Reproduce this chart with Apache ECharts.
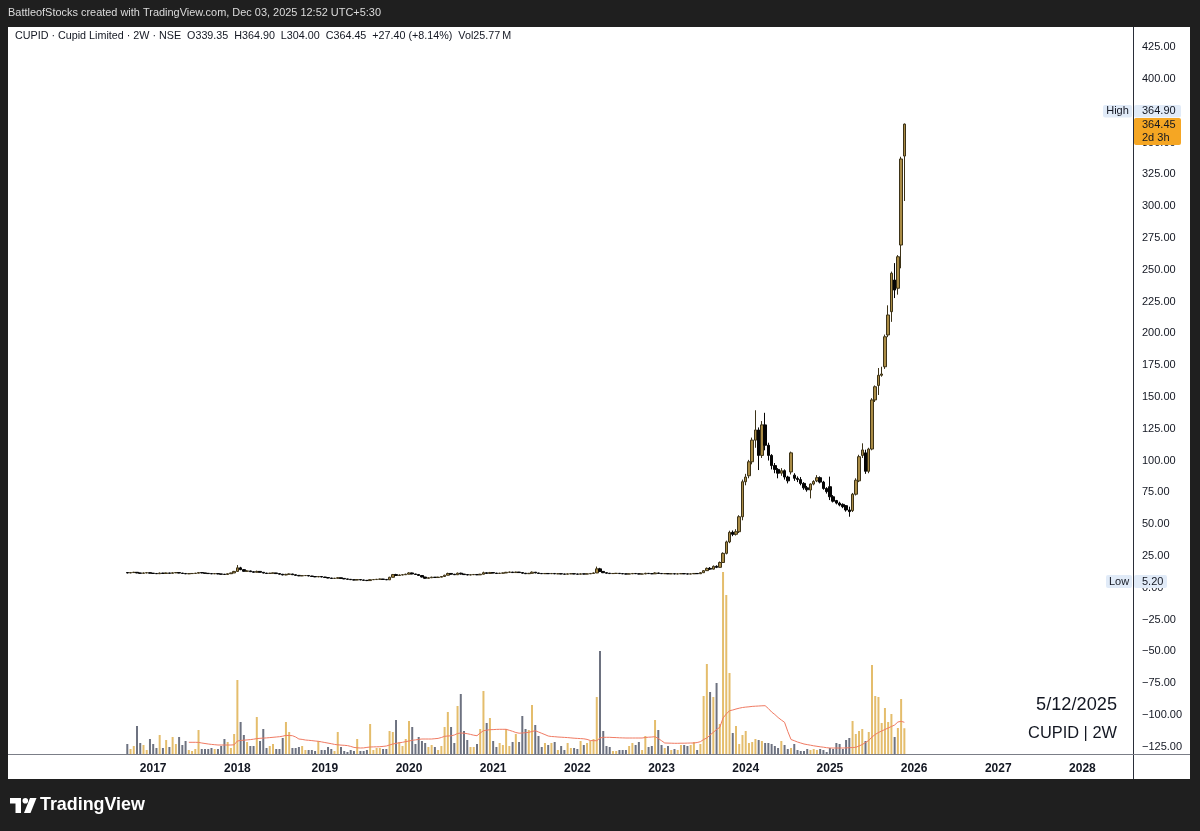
<!DOCTYPE html>
<html>
<head>
<meta charset="utf-8">
<script src="https://cdn.jsdelivr.net/npm/echarts@6/dist/echarts.min.js"></script>
<style>
html,body{margin:0;padding:0;background:#1f1f1f;}
#chart{width:1200px;height:831px;}
</style>
</head>
<body>
<div id="chart"></div>
<script>
// ---------------- DATA ----------------
// 2-week slots on the time axis start 2015-04-13; the first bar of data is 2016-09-12 (slot 37)
const axisStart = [2015, 3, 13];
const slotCount = 348;
const firstBarSlot = 37;
const yearLabels = ['2017','2018','2019','2020','2021','2022','2023','2024','2025','2026','2027','2028'];

const opens = [
11.9,11.6,11.9,12.1,11.6,11.3,11.6,11.8,11.4,11.2,
11.0,11.5,11.2,11.6,11.3,11.7,11.9,11.5,11.2,10.9,
11.1,11.2,11.4,11.9,11.6,11.3,11.1,10.9,11.1,10.8,
10.6,10.4,11.0,11.6,12.8,15.6,14.2,12.9,13.2,12.6,
12.1,12.8,12.1,11.5,11.2,11.4,11.6,11.1,10.6,10.0,
10.5,10.8,10.2,9.7,9.3,9.5,9.6,9.2,8.8,8.5,
8.8,8.4,8.0,7.6,7.3,7.4,7.8,7.3,6.9,6.6,
6.3,6.0,6.4,6.1,5.8,5.6,6.3,6.4,6.6,6.8,
6.5,6.2,8.2,10.3,9.6,10.0,10.2,10.6,11.6,10.8,
10.4,9.6,8.4,7.4,7.8,8.3,8.0,8.3,8.8,9.8,
11.2,10.6,10.2,11.4,10.7,10.3,10.0,10.2,10.4,10.1,
10.6,11.8,11.2,11.9,11.5,11.2,11.4,11.6,12.1,12.3,
11.9,12.3,11.9,11.4,11.0,11.3,12.2,11.6,11.2,11.0,
11.2,11.0,11.2,10.9,11.0,10.8,10.6,10.9,11.0,10.8,
10.6,10.9,10.7,10.9,11.2,11.6,14.8,12.8,11.8,11.4,
11.1,11.2,11.3,11.1,10.9,10.7,10.9,11.2,11.0,10.7,
10.8,11.3,11.1,10.9,11.6,11.2,11.0,11.1,10.9,11.0,
10.8,10.9,11.1,10.9,10.7,10.9,11.2,11.0,11.8,13.4,
15.2,14.6,16.8,16.0,19.8,27.0,36.0,43.5,42.0,44.0,
55.8,83.3,88.0,99.0,116.0,124.0,104.0,128.0,112.0,104.0,
96.0,93.0,90.0,92.0,87.0,91.0,88.5,86.0,85.0,82.0,
78.5,76.8,81.5,84.0,86.5,83.0,78.0,79.4,71.5,68.5,
66.5,65.5,64.5,61.1,60.6,73.5,84.0,104.0,106.0,91.5,
109.0,147.6,159.0,167.0,173.7,198.7,217.0,241.9,235.4,269.4,
339.35
];
const closes = [
11.6,11.9,12.1,11.6,11.3,11.6,11.8,11.4,11.2,11.0,
11.5,11.2,11.6,11.3,11.7,11.9,11.5,11.2,10.9,11.1,
11.2,11.4,11.9,11.6,11.3,11.1,10.9,11.1,10.8,10.6,
10.4,11.0,11.6,12.8,15.6,14.2,12.9,13.2,12.6,12.1,
12.8,12.1,11.5,11.2,11.4,11.6,11.1,10.6,10.0,10.5,
10.8,10.2,9.7,9.3,9.5,9.6,9.2,8.8,8.5,8.8,
8.4,8.0,7.6,7.3,7.4,7.8,7.3,6.9,6.6,6.3,
6.0,6.4,6.1,5.8,5.6,6.3,6.4,6.6,6.8,6.5,
6.2,8.2,10.3,9.6,10.0,10.2,10.6,11.6,10.8,10.4,
9.6,8.4,7.4,7.8,8.3,8.0,8.3,8.8,9.8,11.2,
10.6,10.2,11.4,10.7,10.3,10.0,10.2,10.4,10.1,10.6,
11.8,11.2,11.9,11.5,11.2,11.4,11.6,12.1,12.3,11.9,
12.3,11.9,11.4,11.0,11.3,12.2,11.6,11.2,11.0,11.2,
11.0,11.2,10.9,11.0,10.8,10.6,10.9,11.0,10.8,10.6,
10.9,10.7,10.9,11.2,11.6,14.8,12.8,11.8,11.4,11.1,
11.2,11.3,11.1,10.9,10.7,10.9,11.2,11.0,10.7,10.8,
11.3,11.1,10.9,11.6,11.2,11.0,11.1,10.9,11.0,10.8,
10.9,11.1,10.9,10.7,10.9,11.2,11.0,11.8,13.4,15.2,
14.6,16.8,16.0,19.8,27.0,36.0,43.5,42.0,44.0,55.8,
83.3,87.0,99.0,116.0,124.0,104.0,128.0,112.0,104.0,96.0,
93.0,90.0,92.0,87.0,84.0,106.0,86.0,85.0,82.0,78.5,
77.0,81.5,83.5,86.5,83.0,78.0,75.5,71.5,68.0,66.5,
65.0,63.7,61.1,59.8,73.5,84.5,103.0,108.3,91.5,109.0,
147.6,158.0,167.0,168.0,197.3,214.4,247.2,234.0,260.2,337.05,
364.45
];
const lows = [
11.3,11.4,11.7,11.4,11.0,11.1,11.4,11.2,11.0,10.8,
10.9,11.0,11.1,11.1,11.2,11.5,11.3,11.0,10.7,10.7,
10.9,11.0,11.3,11.4,11.1,10.9,10.7,10.8,10.6,10.4,
10.2,10.3,10.9,11.5,12.6,13.8,12.6,12.5,12.4,11.9,
12.0,11.9,11.3,11.0,11.0,11.2,10.9,10.4,9.8,9.8,
10.3,10.0,9.5,9.1,9.1,9.3,9.0,8.6,8.3,8.3,
8.2,7.8,7.4,7.1,7.0,7.2,7.1,6.7,6.4,6.1,
5.8,5.9,5.9,5.6,5.2,5.5,6.1,6.2,6.4,6.3,
6.0,6.1,8.0,9.3,9.4,9.8,10.0,10.5,10.5,10.1,
9.3,8.1,7.0,7.2,7.6,7.8,7.9,8.2,8.7,9.7,
10.3,10.0,10.1,10.4,10.1,9.8,9.8,10.0,9.9,10.0,
10.5,10.9,11.1,11.3,11.0,11.0,11.2,11.5,11.9,11.7,
11.8,11.7,11.1,10.8,10.9,11.2,11.4,11.0,10.8,10.9,
10.8,10.9,10.7,10.7,10.6,10.4,10.5,10.7,10.6,10.4,
10.5,10.5,10.6,10.8,11.1,11.5,12.4,11.5,11.2,10.9,
10.9,11.0,10.9,10.7,10.5,10.6,10.8,10.8,10.5,10.5,
10.7,10.9,10.7,10.8,11.0,10.8,10.8,10.7,10.7,10.6,
10.6,10.8,10.7,10.5,10.6,10.8,10.8,10.9,11.7,13.2,
14.0,14.4,15.4,15.8,19.6,26.2,35.0,40.5,41.0,43.0,
53.0,80.5,86.0,97.0,110.0,92.5,102.0,108.0,100.0,93.0,
90.0,86.0,88.0,85.0,82.0,89.0,84.0,83.0,80.5,77.0,
75.5,70.2,80.5,83.0,82.0,77.0,74.0,68.9,67.0,65.5,
64.0,62.5,59.8,55.8,59.5,72.5,83.0,102.0,89.5,90.0,
108.0,146.0,151.5,165.9,172.0,197.0,209.0,227.7,230.4,251.1,
304.0
];
const highs = [
12.2,12.2,12.5,12.3,11.8,11.9,12.0,12.0,11.6,11.4,
11.9,11.7,11.9,11.7,12.1,12.2,12.0,11.6,11.3,11.3,
11.4,11.6,12.3,12.0,11.7,11.4,11.2,11.3,11.2,10.9,
10.8,11.2,11.8,13.2,17.8,16.4,14.6,13.8,13.4,12.8,
13.4,13.0,12.2,11.6,11.7,11.9,11.7,11.2,10.7,10.9,
11.2,10.9,10.3,9.8,9.8,9.9,9.7,9.3,8.9,9.2,
8.9,8.5,8.1,7.7,7.7,8.3,7.9,7.4,7.0,6.7,
6.4,6.8,6.5,6.2,5.9,6.7,6.7,6.9,7.1,6.9,
6.6,8.6,10.8,10.9,10.4,10.6,11.0,12.2,11.9,10.9,
10.5,9.7,8.5,8.1,8.6,8.4,8.6,9.1,10.2,11.8,
11.4,10.8,11.9,11.8,10.9,10.4,10.5,10.7,10.5,10.9,
12.6,12.0,12.4,12.0,11.6,11.7,11.9,12.4,12.6,12.4,
12.6,12.4,12.1,11.5,11.6,12.8,12.3,11.7,11.3,11.5,
11.3,11.5,11.3,11.3,11.1,10.9,11.2,11.3,11.1,10.9,
11.2,11.0,11.2,11.5,12.0,16.6,15.6,13.0,11.9,11.5,
11.5,11.6,11.4,11.2,11.0,11.2,11.5,11.3,11.1,11.1,
11.7,11.4,11.2,12.1,11.8,11.3,11.4,11.2,11.3,11.1,
11.2,11.4,11.2,11.0,11.2,11.5,11.3,12.2,13.9,15.9,
16.2,17.5,17.6,20.6,27.8,37.0,44.8,45.0,46.0,57.0,
85.0,89.5,100.5,118.0,139.5,126.0,131.0,137.5,114.0,105.0,
98.0,94.0,94.0,93.0,88.0,107.0,90.0,87.5,87.0,83.0,
80.0,82.0,84.5,88.5,87.5,84.0,79.0,87.3,72.8,69.0,
67.6,66.3,65.0,63.7,74.5,86.0,104.5,113.5,108.5,110.0,
149.0,159.0,172.7,173.7,199.0,222.0,248.5,255.2,261.5,338.8,
364.9
];
// volume in millions
const volumes = [
10,5,8,28,11,9,4,15,10,6,
19,6,14,7,17,10,17,9,13,4,
3,5,24,5,5,5,6,5,5,8,
15,12,6,20,74,32,19,12,8,8,
37,13,25,6,8,10,5,5,16,32,
22,6,6,7,8,4,4,4,3,13,
4,4,7,5,3,22,7,3,2,4,
3,15,3,3,4,30,4,6,6,5,
5,23,22,34,12,8,15,33,27,10,
17,13,11,7,9,7,4,8,27,42,
27,11,48,60,23,14,7,7,10,25,
63,31,36,13,7,11,9,25,8,12,
20,12,38,25,24,49,29,18,7,11,
9,11,12,4,8,4,11,6,6,5,
13,9,11,13,15,57,103,23,8,7,
3,3,4,4,4,8,11,9,12,4,
18,7,8,34,24,9,6,8,4,5,
4,9,9,8,9,12,4,10,58,90,
62,57,71,30,182,159,81,21,28,10,
19,23,11,12,15,14,13,11,11,10,
8,6,13,9,5,6,10,4,3,3,
5,4,5,4,5,4,2,6,5,11,
10,5,14,16,33,20,23,25,13,22,
89,58,57,31,46,32,40,17,26,55,
25.77
];
// volume moving average line (millions)
const volumeMA = [
null,null,null,null,null,null,null,null,null,null,
null,null,null,null,null,null,null,null,null,11.7,
11.7,11.7,11.6,11.0,10.5,10.0,9.6,9.3,9.0,9.0,
9.0,9.0,9.0,9.2,13.0,13.5,13.8,14.1,14.4,14.8,
15.4,15.7,15.9,16.1,16.4,16.7,17.0,17.3,17.8,18.6,
18.5,18.3,17.0,15.0,14.6,14.0,13.7,13.4,13.0,12.7,
12.1,11.5,10.9,10.3,9.6,9.2,8.9,8.7,8.4,7.6,
6.6,6.2,6.0,6.1,6.6,7.0,7.1,7.2,7.3,7.6,
8.0,9.0,10.0,10.6,11.2,11.7,12.4,13.0,13.7,14.1,
14.6,15.0,15.0,15.0,15.0,15.3,15.6,16.5,17.7,18.0,
18.2,19.0,20.5,21.0,20.8,20.3,19.6,18.8,18.3,21.0,
23.3,23.8,24.3,24.4,24.6,24.7,24.7,24.7,23.7,22.7,
21.5,20.8,21.0,21.3,21.7,22.5,23.3,22.0,20.7,19.4,
18.0,17.5,17.3,17.0,16.8,16.6,16.4,16.1,15.8,15.6,
15.4,15.2,14.6,13.5,13.3,13.3,16.0,16.7,16.7,16.7,
16.5,16.4,16.2,16.1,16.0,16.0,16.0,16.0,16.0,16.0,
16.5,16.8,17.0,17.3,15.5,13.3,11.0,10.9,10.8,10.7,
10.7,10.8,10.8,10.9,11.0,11.0,11.5,12.3,14.5,16.0,
19.0,21.7,24.5,26.7,36.0,40.0,43.3,44.0,45.0,45.8,
46.5,46.9,47.2,47.6,47.8,48.0,48.2,48.3,45.5,42.0,
39.5,36.5,34.0,31.7,22.5,14.5,13.3,12.0,11.0,10.0,
9.4,8.8,8.2,7.7,7.2,6.8,6.3,6.0,6.0,6.0,
6.0,6.0,6.1,6.3,6.5,6.7,8.0,9.5,11.5,13.5,
17.0,19.5,21.5,23.0,24.5,26.0,27.5,29.0,32.0,32.7,
31.7
];
const headerText = 'BattleofStocks created with TradingView.com, Dec 03, 2025 12:52 UTC+5:30';
const legendText = 'CUPID \u00b7 Cupid Limited \u00b7 2W \u00b7 NSE  O339.35  H364.90  L304.00  C364.45  +27.40 (+8.14%)  Vol25.77\u2009M';
const lastPrice = '364.45', countdown = '2d 3h', highValue = '364.90', lowValue = '5.20';
const dateNote = '5/12/2025', symbolNote = 'CUPID | 2W';

// ---------------- BUILD ----------------
const FONT = '"Liberation Sans", Arial, sans-serif';
const cats = [];
const t0 = Date.UTC(axisStart[0], axisStart[1], axisStart[2]);
for (let k = 0; k < slotCount; k++) {
  cats.push(new Date(t0 + k * 14 * 86400000).toISOString().slice(0, 10));
}
const yearStartIdx = new Set();
for (let k = 0; k < cats.length; k++) {
  const y = cats[k].slice(0, 4);
  if ((k === 0 || cats[k - 1].slice(0, 4) !== y) && yearLabels.indexOf(y) >= 0) yearStartIdx.add(k);
}

const UP_FILL = '#a98b45', UP_LINE = '#3d3318', DOWN = '#050505';
const VOL_UP = '#e4bd6c', VOL_DOWN = '#6d7280', MA_COLOR = '#f07a62';

const candleData = opens.map((o, i) => [firstBarSlot + i, o, closes[i], lows[i], highs[i]]);
const volData = volumes.map((v, i) => ({
  value: [firstBarSlot + i, v],
  itemStyle: { color: closes[i] >= opens[i] ? VOL_UP : VOL_DOWN }
}));
const maData = [];
volumeMA.forEach((v, i) => { if (v != null) maData.push([firstBarSlot + i, v]); });

const mctx = document.createElement('canvas').getContext('2d');
function fit(text, weight, width) {
  mctx.font = weight + ' 100px ' + FONT;
  return 100 * width / mctx.measureText(text).width;
}
function txt(text, x, y, opts) {
  const size = opts.size || fit(text, opts.weight || 'normal', opts.width);
  return {
    type: 'text', x: x, y: y, z: 20, silent: true,
    style: {
      text: text, fill: opts.fill || '#131722',
      font: (opts.weight || 'normal') + ' ' + size.toFixed(2) + 'px ' + FONT,
      align: opts.align || 'left', verticalAlign: 'middle',
      textAlign: opts.align || 'left', textVerticalAlign: 'middle'
    }
  };
}
function box(x, y, w, h, fill) {
  return { type: 'rect', z: 15, silent: true, shape: { x: x, y: y, width: w, height: h, r: 2 }, style: { fill: fill } };
}

const priceFmt = v => {
  if (v < -125 || v > 425) return '';
  return (v < 0 ? '\u2212' : '') + Math.abs(v).toFixed(2);
};

const chart = echarts.init(document.getElementById('chart'), null, { renderer: 'canvas', width: 1200, height: 831 });
chart.setOption({
  animation: false,
  backgroundColor: '#1f1f1f',
  grid: [
    { left: 7.5, right: 69, top: 15.3, bottom: 52.5 },
    { left: 7.5, right: 69, top: 572, bottom: 77 }
  ],
  xAxis: [
    { type: 'category', gridIndex: 0, data: cats, boundaryGap: false, show: false },
    {
      type: 'category', gridIndex: 1, data: cats, boundaryGap: false,
      axisLine: { show: false }, axisTick: { show: false }, splitLine: { show: false },
      axisLabel: {
        interval: (i) => yearStartIdx.has(i),
        formatter: (v) => v.slice(0, 4),
        color: '#131722', fontWeight: 'bold', fontSize: 12, fontFamily: FONT, margin: 9
      }
    }
  ],
  yAxis: [
    {
      type: 'value', gridIndex: 0, position: 'right', min: -150, max: 450, interval: 25,
      axisLine: { show: false }, axisTick: { show: false }, splitLine: { show: false },
      axisLabel: { formatter: priceFmt, color: '#131722', fontSize: 11, fontFamily: FONT, margin: 11 }
    },
    { type: 'value', gridIndex: 1, min: 0, max: Math.max.apply(null, volumes), show: false, splitLine: { show: false } }
  ],
  series: [
    {
      type: 'bar', name: 'Volume', xAxisIndex: 1, yAxisIndex: 1, data: volData,
      barWidth: 2, z: 1, silent: true
    },
    {
      type: 'line', name: 'Volume MA', xAxisIndex: 1, yAxisIndex: 1, data: maData,
      showSymbol: false, symbol: 'none', lineStyle: { color: MA_COLOR, width: 1 }, z: 2, silent: true
    },
    {
      type: 'candlestick', name: 'CUPID', xAxisIndex: 0, yAxisIndex: 0, data: candleData,
      encode: { x: 0, y: [1, 2, 3, 4] }, barWidth: 3, z: 5, silent: true,
      itemStyle: { color: UP_FILL, color0: DOWN, borderColor: UP_LINE, borderColor0: DOWN, borderWidth: 1 }
    }
  ],
  graphic: [
    { type: 'rect', z: -100, silent: true, shape: { x: 8, y: 27, width: 1182, height: 752 }, style: { fill: '#ffffff' } },
    { type: 'line', z: 10, silent: true, shape: { x1: 1133.5, y1: 27, x2: 1133.5, y2: 779 }, style: { stroke: '#2a2e39', lineWidth: 1 } },
    { type: 'line', z: 10, silent: true, shape: { x1: 8, y1: 754.5, x2: 1190, y2: 754.5 }, style: { stroke: '#7b7e87', lineWidth: 1.2 } },
    txt(headerText, 8, 13, { width: 373, fill: '#dcdcdc' }),
    txt(legendText, 15, 36, { width: 497 }),
    box(1103, 105, 29, 12.5, '#e1ebf8'),
    txt('High', 1117.5, 111.3, { size: 11, align: 'center' }),
    box(1134, 105, 47, 12.5, '#e1ebf8'),
    txt(highValue, 1142, 111.3, { size: 11 }),
    box(1134, 118, 47, 27, '#f5a623'),
    txt(lastPrice, 1142, 125, { size: 11 }),
    txt(countdown, 1142, 137.5, { size: 11 }),
    box(1106, 575, 26, 13, '#e1ebf8'),
    txt('Low', 1119, 581.5, { size: 11, align: 'center' }),
    box(1134, 575, 33, 13, '#e1ebf8'),
    txt(lowValue, 1142, 581.5, { size: 11 }),
    txt(dateNote, 1117, 705, { width: 81, align: 'right' }),
    txt(symbolNote, 1117, 733, { width: 89, align: 'right' }),
    { type: 'polygon', z: 20, silent: true, shape: { points: [[10, 798], [21, 798], [21, 813], [15.5, 813], [15.5, 803.5], [10, 803.5]] }, style: { fill: '#ffffff' } },
    { type: 'circle', z: 20, silent: true, shape: { cx: 25.3, cy: 800.8, r: 2.8 }, style: { fill: '#ffffff' } },
    { type: 'polygon', z: 20, silent: true, shape: { points: [[30, 798], [36.5, 798], [30.5, 813], [24, 813]] }, style: { fill: '#ffffff' } },
    txt('TradingView', 40, 805.5, { width: 105, weight: '600', fill: '#ffffff' })
  ]
});
</script>
</body>
</html>
